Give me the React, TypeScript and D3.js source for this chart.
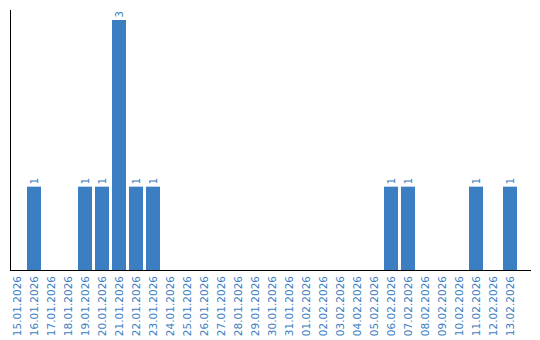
import React from "react";
import * as d3 from "d3";

const categories = [
  "15.01.2026","16.01.2026","17.01.2026","18.01.2026","19.01.2026","20.01.2026",
  "21.01.2026","22.01.2026","23.01.2026","24.01.2026","25.01.2026","26.01.2026",
  "27.01.2026","28.01.2026","29.01.2026","30.01.2026","31.01.2026","01.02.2026",
  "02.02.2026","03.02.2026","04.02.2026","05.02.2026","06.02.2026","07.02.2026",
  "08.02.2026","09.02.2026","10.02.2026","11.02.2026","12.02.2026","13.02.2026",
];
const values = [0,1,0,0,1,1,3,1,1,0,0,0,0,0,0,0,0,0,0,0,0,0,1,1,0,0,0,1,0,1];

const W = 540, H = 340;
const BLUE = "#3b7ec2";
const TEXT = "#3b7ec2";
const FONT = "DejaVu Sans, Verdana, sans-serif";

export default function App() {
  const x = d3.scaleBand<string>().domain(categories).range([8.5, 8.5 + 17 * categories.length]).paddingInner(3 / 17).paddingOuter(1.5 / 17);
  const y = d3.scaleLinear().domain([0, 3]).range([270, 20]);
  return (
    <svg width={W} height={H} style={{ position: "absolute", left: 0, top: 0 }}>
      <rect width={W} height={H} fill="#fff" />
      {categories.map((c, i) =>
        values[i] > 0 ? (
          <g key={c}>
            <rect x={x(c)!} y={y(values[i])} width={x.bandwidth()} height={y(0) - y(values[i])} fill={BLUE} />
            <text
              transform={`translate(${x(c)! + x.bandwidth() / 2 + 3.5},${y(values[i]) - 2.5}) rotate(-90)`}
              fontFamily={FONT}
              fontSize={10}
              fill={TEXT}
            >
              {values[i]}
            </text>
          </g>
        ) : null
      )}
      <line x1={10.5} x2={10.5} y1={10} y2={270} stroke="#000" strokeWidth={1} />
      <line x1={10} x2={531} y1={270.5} y2={270.5} stroke="#000" strokeWidth={1} />
      {categories.map((c) => (
        <text
          key={c}
          transform={`translate(${x(c)! + x.bandwidth() / 2 + 4},276) rotate(-90)`}
          textAnchor="end"
          fontFamily={FONT}
          fontSize={10.5}
          fill={TEXT}
        >
          {c}
        </text>
      ))}
    </svg>
  );
}
